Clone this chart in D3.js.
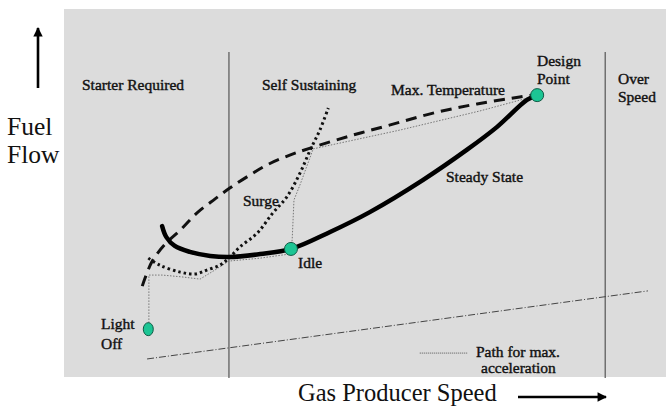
<!DOCTYPE html>
<html>
<head>
<meta charset="utf-8">
<script src="https://cdn.jsdelivr.net/npm/d3@7"></script>
<style>
  body { margin: 0; background: #fff; }
  text { font-family: "Liberation Serif", "Times New Roman", serif; fill: #111; }
  .lbl { font-size: 15.5px; stroke: #111; stroke-width: 0.4px; }
  .big { font-size: 25.5px; }
</style>
</head>
<body>
<div id="chart"></div>
<script>
// speed (x) and fuel flow (y), both in arbitrary 0–100 units
const steadyState = [[16.3, 41.0], [17.0, 38.0], [18.4, 35.6], [20.9, 34.0], [24.3, 32.9], [27.4, 32.6],
  [32.6, 33.4], [37.7, 34.8], [44.2, 39.4], [50.8, 44.8], [59.6, 53.5], [66.9, 61.7], [71.9, 67.9],
  [76.9, 75.3], [78.6, 76.6]];
const maxTemp = [[13.0, 24.7], [14.6, 31.3], [16.8, 36.1], [19.3, 39.9], [22.1, 44.6], [25.1, 48.4],
  [27.6, 51.4], [30.6, 54.6], [33.7, 57.6], [37.2, 60.1], [40.9, 62.2], [47.5, 65.5], [54.2, 68.5],
  [61.3, 71.7], [68.6, 74.2], [75.7, 76.1], [77.7, 76.6]];
const surge = [[14.0, 32.3], [15.9, 30.4], [19.3, 28.5], [21.8, 28.0], [23.8, 29.1], [25.9, 30.4],
  [27.4, 32.3], [29.2, 35.3], [32.1, 39.1], [34.7, 44.6], [37.0, 48.9], [39.2, 55.4], [40.9, 61.7],
  [42.5, 67.1], [43.9, 73.1]];
const accelPath = [[14.1, 14.7], [14.1, 27.7], [16.3, 27.7], [19.6, 27.2], [22.6, 26.6], [25.1, 29.1],
  [27.4, 31.5], [32.6, 32.3], [37.4, 33.4], [37.9, 37.2], [38.2, 48.1], [39.2, 52.2], [41.4, 62.0],
  [55.8, 67.1], [69.1, 72.3], [77.7, 76.1]];
const lowerLine = [[13.8, 4.9], [97.0, 23.4]];
const legendLine = [[59.1, 6.5], [67.1, 6.5]];
const boundaries = [27.4, 89.9];
const points = [
  { name: "Design Point", x: 78.6, y: 76.6 },
  { name: "Idle", x: 37.7, y: 34.8 },
  { name: "Light Off", x: 14.0, y: 13.0 }
];

const W = 666, H = 408;
const svg = d3.select("#chart").append("svg").attr("width", W).attr("height", H);

const x = d3.scaleLinear().domain([0, 100]).range([64, 666]);
const y = d3.scaleLinear().domain([0, 100]).range([377, 9]);

// gray plot area
svg.append("rect")
  .attr("x", x(0)).attr("y", y(100))
  .attr("width", x(100) - x(0)).attr("height", y(0) - y(100))
  .attr("fill", "#dcdcdc");

// region boundaries
svg.selectAll(".bound").data(boundaries).join("line")
  .attr("x1", d => x(d)).attr("x2", d => x(d))
  .attr("y1", y(88.3)).attr("y2", y(-0.3))
  .attr("stroke", "#555").attr("stroke-width", 1.2);

const smooth = d3.line().x(d => x(d[0])).y(d => y(d[1])).curve(d3.curveCatmullRom);
const straight = d3.line().x(d => x(d[0])).y(d => y(d[1]));

// lower dash-dot line and legend sample
svg.append("path").attr("d", straight(lowerLine))
  .attr("fill", "none").attr("stroke", "#444").attr("stroke-width", 1)
  .attr("stroke-dasharray", "7,2,1,2");
svg.append("path").attr("d", straight(legendLine))
  .attr("fill", "none").attr("stroke", "#555").attr("stroke-width", 1)
  .attr("stroke-dasharray", "1,1");

// path for max acceleration
svg.append("path").attr("d", straight(accelPath))
  .attr("fill", "none").attr("stroke", "#777").attr("stroke-width", 1)
  .attr("stroke-dasharray", "1.5,1.5");

// surge line
svg.append("path").attr("d", smooth(surge))
  .attr("fill", "none").attr("stroke", "#111").attr("stroke-width", 3)
  .attr("stroke-dasharray", "2.5,3");

// max temperature
svg.append("path").attr("d", smooth(maxTemp))
  .attr("fill", "none").attr("stroke", "#111").attr("stroke-width", 3)
  .attr("stroke-dasharray", "11,7");

// steady state
svg.append("path").attr("d", smooth(steadyState))
  .attr("fill", "none").attr("stroke", "#000").attr("stroke-width", 4.5)
  .attr("stroke-linecap", "round");

// operating points
svg.selectAll(".pt").data(points).join("ellipse")
  .attr("cx", d => x(d.x)).attr("cy", d => y(d.y))
  .attr("rx", d => d.name === "Light Off" ? 5 : 6.5)
  .attr("ry", 6.5)
  .attr("fill", "#1cc594").attr("stroke", "#115a45").attr("stroke-width", 1);

// labels
const labels = [
  { t: "Starter Required", px: 82, py: 90 },
  { t: "Self Sustaining", px: 262, py: 90 },
  { t: "Max. Temperature", px: 391, py: 95 },
  { t: "Design", px: 537, py: 66 },
  { t: "Point", px: 537, py: 84 },
  { t: "Over", px: 618, py: 84 },
  { t: "Speed", px: 618, py: 102 },
  { t: "Steady State", px: 446, py: 182 },
  { t: "Surge", px: 243, py: 206 },
  { t: "Idle", px: 298, py: 268 },
  { t: "Light", px: 101, py: 329 },
  { t: "Off", px: 101, py: 349 },
  { t: "Path for max.", px: 476, py: 357 },
  { t: "acceleration", px: 481, py: 373 }
];
svg.selectAll(".lbl").data(labels).join("text")
  .attr("class", "lbl")
  .attr("x", d => d.px).attr("y", d => d.py)
  .text(d => d.t);

// axis titles
svg.append("text").attr("class", "big").attr("x", 7).attr("y", 135).text("Fuel");
svg.append("text").attr("class", "big").attr("x", 7).attr("y", 163).text("Flow");
svg.append("text").attr("class", "big").style("font-size", "24.5px")
  .attr("x", 298).attr("y", 401).text("Gas Producer Speed");

// arrows
svg.append("defs").append("marker")
  .attr("id", "head").attr("viewBox", "0 0 10 10")
  .attr("refX", 9).attr("refY", 5)
  .attr("markerWidth", 4.5).attr("markerHeight", 3.6)
  .attr("orient", "auto")
  .append("path").attr("d", "M0,0L10,5L0,10Z").attr("fill", "#000");

svg.append("line").attr("x1", 38).attr("y1", 88).attr("x2", 38).attr("y2", 28)
  .attr("stroke", "#000").attr("stroke-width", 2.6).attr("marker-end", "url(#head)");
svg.append("line").attr("x1", 518).attr("y1", 397).attr("x2", 606).attr("y2", 397)
  .attr("stroke", "#000").attr("stroke-width", 2.6).attr("marker-end", "url(#head)");
</script>
</body>
</html>
